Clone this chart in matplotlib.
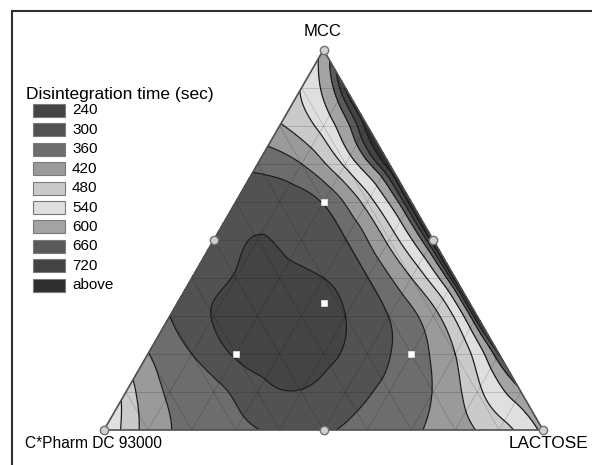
import numpy as np
import matplotlib
matplotlib.use("Agg")
import matplotlib.pyplot as plt
import matplotlib.tri as mtri
from matplotlib.patches import Rectangle, Polygon

plt.rcParams['font.family'] = ['Liberation Sans', 'DejaVu Sans']

# disintegration time (sec) on a 10 % grid
# one row per MCC fraction (0 .. 1), going from the C*Pharm edge to the lactose edge
mcc_steps = [0.0, 0.1, 0.2, 0.3, 0.4, 0.5, 0.6, 0.7, 0.8, 0.9, 1.0]
time_rows = [
    [545, 400, 345, 318, 292, 292, 325, 352, 395, 455, 560],
    [458, 352, 320, 258, 242, 272, 315, 362, 465, 590],
    [362, 300, 232, 222, 228, 268, 330, 420, 670],
    [300, 236, 215, 212, 240, 302, 400, 740],
    [272, 236, 220, 240, 298, 420, 750],
    [285, 236, 258, 298, 440, 755],
    [278, 268, 305, 450, 755],
    [315, 360, 495, 750],
    [415, 505, 740],
    [485, 725],
    [565],
]

# design points (C*Pharm, lactose, MCC)
edge_points = [(1, 0, 0), (0, 1, 0), (0, 0, 1), (0.5, 0.5, 0), (0.5, 0, 0.5), (0, 0.5, 0.5)]
inner_points = [(1/3, 1/3, 1/3), (0.6, 0.2, 0.2), (0.2, 0.6, 0.2), (0.2, 0.2, 0.6)]

levels = [0, 240, 300, 360, 420, 480, 540, 600, 660, 720, 5000]
legend_labels = ['240', '300', '360', '420', '480', '540', '600', '660', '720', 'above']
fill_colors = ['#444444', '#525252', '#6d6d6d', '#9a9a9a', '#cacaca',
               '#dfdfdf', '#a3a3a3', '#5a5a5a', '#434343', '#2e2e2e']

# non-linear scale used for interpolating (long times rise steeply at the MCC-lactose edge)
scale_t = [0, 240, 300, 360, 420, 480, 540, 600, 660, 720, 760, 5000]
scale_w = [-0.18, -0.045, 0, 0.045, 0.09, 0.125, 0.155, 0.175, 0.185, 0.193, 0.2, 0.5]

corner_names = ['C*Pharm DC 93000', 'LACTOSE', 'MCC']

H = np.sqrt(3) / 2


def tern(b, c):
    # lactose to the right, MCC to the top
    return np.asarray(b) + np.asarray(c) / 2, np.asarray(c) * H


def px(x, y):
    # pixel position of the picture -> data units
    return (x - 104) / 439, (430 - y) / 439


def to_w(t):
    return np.interp(t, scale_t, scale_w)


bs, cs, zs = [], [], []
for c, row in zip(mcc_steps, time_rows):
    for k, t in enumerate(row):
        bs.append(k * 0.1)
        cs.append(c)
        zs.append(t)
gx, gy = tern(bs, cs)
tri = mtri.Triangulation(gx, gy)
refiner = mtri.UniformTriRefiner(tri)
tri_f, w_f = refiner.refine_field(to_w(np.array(zs, float)), subdiv=4)
w_levels = to_w(levels)

fig = plt.figure(figsize=(5.92, 4.65), dpi=100)
ax = fig.add_axes([0, 0, 1, 1])
ax.set_xlim(-104 / 439, 488 / 439)
ax.set_ylim(-35 / 439, 430 / 439)
ax.axis('off')

ax.tricontourf(tri_f, w_f, levels=w_levels, colors=fill_colors)
ax.tricontour(tri_f, w_f, levels=w_levels[1:-1], colors='#1c1c1c',
              linewidths=0.9, linestyles='solid')

# 10 % composition grid
for s in np.arange(0.1, 1.0, 0.1):
    for (b0, c0), (b1, c1) in [((0, s), (1 - s, s)),      # MCC constant
                               ((s, 0), (s, 1 - s)),      # lactose constant
                               ((0, 1 - s), (1 - s, 0))]: # C*Pharm constant
        lx, ly = tern([b0, b1], [c0, c1])
        ax.plot(lx, ly, color='k', lw=0.5, alpha=0.2)

cx, cy = tern([0, 1, 0], [0, 0, 1])
ax.add_patch(Polygon(np.column_stack([cx, cy]), closed=True, fill=False,
                     ec='#505050', lw=1.2, zorder=4))

ex, ey = tern([p[1] for p in edge_points], [p[2] for p in edge_points])
ax.plot(ex, ey, 'o', ms=6, mfc='#d0d0d0', mec='#707070', mew=1, zorder=5)
ix, iy = tern([p[1] for p in inner_points], [p[2] for p in inner_points])
ax.plot(ix, iy, 's', ms=4.5, mfc='white', mec='#e8e8e8', mew=0.5, zorder=5)

# corner labels
ax.text(*px(25, 443), corner_names[0], fontsize=11.2, ha='left', va='center')
ax.text(*px(588, 443), corner_names[1], fontsize=12.3, ha='right', va='center')
ax.text(*px(323, 32), corner_names[2], fontsize=12, ha='center', va='center')

# legend
ax.text(*px(26, 94), 'Disintegration time (sec)', fontsize=12.5, ha='left', va='center')
for i, (lab, col) in enumerate(zip(legend_labels, fill_colors)):
    yc = 110.5 + i * 19.4
    x0, y0 = px(33, yc + 6.5)
    ax.add_patch(Rectangle((x0, y0), 32 / 439, 13 / 439, fc=col, ec='#7a7a7a', lw=0.8))
    ax.text(*px(72, yc), lab, fontsize=11, ha='left', va='center')

# frame
fx0, fy0 = px(12, 11)
fx1, fy1 = px(592, 465)
ax.plot([fx0, fx0, fx1], [fy1, fy0, fy0], color='#303030', lw=1.5, solid_joinstyle='miter')

fig.savefig('out.png', dpi=100)
